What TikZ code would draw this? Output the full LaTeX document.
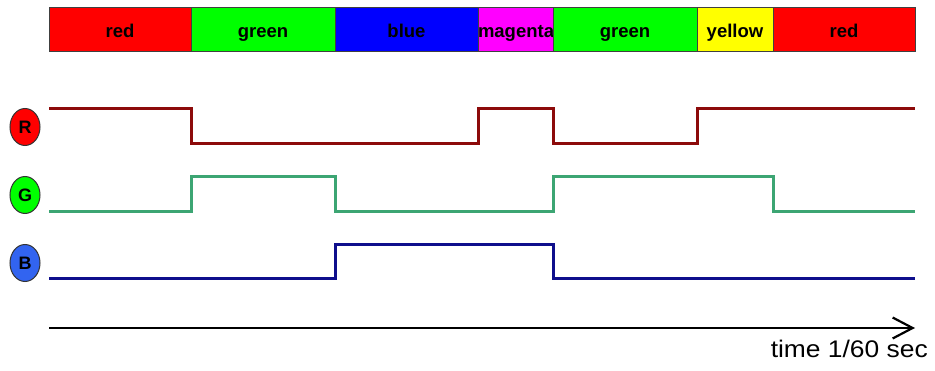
\documentclass[tikz,border=0pt]{standalone}
\usepackage{fontspec}
\setmainfont{Liberation Sans}
\usetikzlibrary{shapes.geometric,arrows.meta}
\definecolor{cR}{RGB}{255,0,0}
\definecolor{cG}{RGB}{0,255,0}
\definecolor{cB}{RGB}{0,0,255}
\definecolor{cM}{RGB}{255,0,255}
\definecolor{cY}{RGB}{255,255,0}
\definecolor{lineR}{RGB}{140,10,10}
\definecolor{lineG}{RGB}{60,165,115}
\definecolor{lineB}{RGB}{15,15,140}
\definecolor{circB}{RGB}{50,100,240}
\tikzset{
  seg/.style={draw=black!75, line width=1pt, minimum height=44pt, inner sep=0pt, outer sep=0pt,
    text height=16pt, text depth=1pt,
    font=\fontsize{18.5}{20}\selectfont\bfseries},
  sig/.style={line width=3pt, line join=miter},
  badge/.style={ellipse, draw=black!80, line width=1pt, minimum width=30pt, minimum height=37pt,
    inner sep=0pt, font=\fontsize{18}{20}\selectfont\bfseries}
}
\begin{document}
\begin{tikzpicture}[x=1pt,y=-1pt]
\useasboundingbox (0,0) rectangle (935,371);
% colour bar
\node[seg, fill=cR, minimum width=142pt, anchor=north west] (s1) at (49,8) {red};
\node[seg, fill=cG, minimum width=144pt, anchor=north west] (s2) at (191,8) {green};
\node[seg, fill=cB, minimum width=143pt, anchor=north west] (s3) at (335,8) {blue};
\node[seg, fill=cM, minimum width=75pt, anchor=north west] (s4) at (478,8) {magenta};
\node[seg, fill=cG, minimum width=144pt, anchor=north west] (s5) at (553,8) {green};
\node[seg, fill=cY, minimum width=76pt, anchor=north west] (s6) at (697,8) {yellow};
\node[seg, fill=cR, minimum width=142pt, anchor=north west] (s7) at (773,8) {red};
% badges
\node[badge, fill=cR] (R) at (25,127) {R};
\node[badge, fill=cG] (G) at (25,195) {G};
\node[badge, fill=circB] (B) at (25,263) {B};
% signals
\draw[sig, lineR] (49,109) -- (191,109) -- (191,144) -- (478,144) -- (478,109) -- (553,109)
  -- (553,144) -- (697,144) -- (697,109) -- (915,109);
\draw[sig, lineG] (49,212) -- (191,212) -- (191,177) -- (335,177) -- (335,212) -- (553,212)
  -- (553,177) -- (773,177) -- (773,212) -- (915,212);
\draw[sig, lineB] (49,279) -- (335,279) -- (335,245) -- (553,245) -- (553,279) -- (915,279);
% time axis
\coordinate (t0) at (49,328);
\coordinate (t1) at (915,328);
\draw[line width=2.2pt, -{Straight Barb[length=20pt,width=21pt,line width=2.2pt]}] (t0) -- (t1);
\node[anchor=north east, inner sep=0pt, font=\fontsize{24}{28}\selectfont] (tl) at (928,340) {\scalebox{1.1}[1]{time 1/60 sec}};
\end{tikzpicture}
\end{document}
